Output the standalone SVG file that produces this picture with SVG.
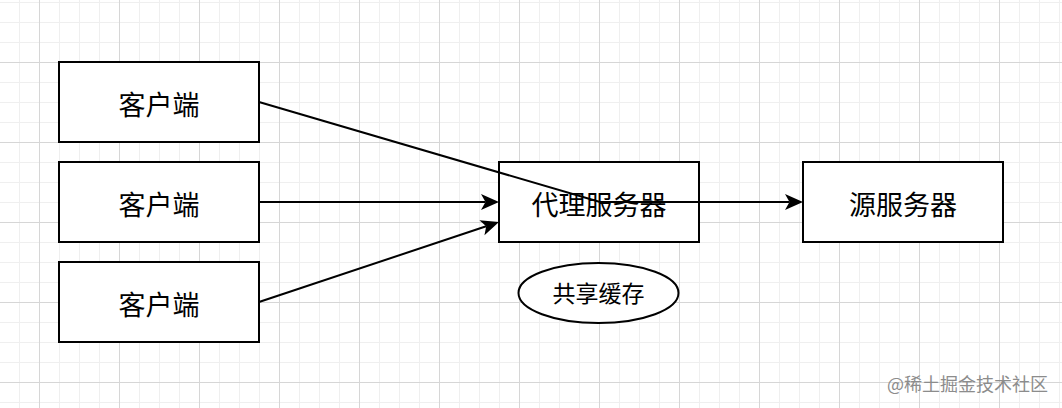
<svg xmlns="http://www.w3.org/2000/svg" width="1062" height="408" viewBox="0 0 1062 408">
<style>
.box{fill:#ffffff;stroke:#000000;stroke-width:2}
.edge{fill:none;stroke:#000000;stroke-width:2}
.lbl{font-family:"Noto Sans CJK SC","Noto Sans",sans-serif;fill:#000000;text-anchor:middle}
.big{font-size:27px}
.small{font-size:23px}
.wm{font-family:"Noto Sans CJK SC","Noto Sans",sans-serif;font-size:18px;fill:#8c8c8c;text-anchor:end}
</style>
<defs>
<pattern id="minor" patternUnits="userSpaceOnUse" x="19" y="2" width="20" height="20">
<path d="M0.5 0V20M0 0.5H20" stroke="#efefef" stroke-width="1" fill="none"/>
</pattern>
<pattern id="major" patternUnits="userSpaceOnUse" x="39" y="62" width="80" height="80">
<path d="M0.5 0V80M0 0.5H80" stroke="#d6d6d6" stroke-width="1" fill="none"/>
</pattern>
<marker id="arr" markerUnits="userSpaceOnUse" markerWidth="20" markerHeight="18" refX="4.5" refY="8" orient="auto" viewBox="0 0 20 16" overflow="visible">
<path d="M0,0 L18,8 L0,16 L4.5,8 Z" fill="#000000"/>
</marker>
</defs>
<rect width="1062" height="408" fill="#ffffff"/>
<rect width="1062" height="408" fill="url(#minor)"/>
<rect width="1062" height="408" fill="url(#major)"/>

<g id="client1"><rect class="box" x="59" y="62" width="200" height="80"/><text class="lbl big" x="159" y="115">客户端</text></g>
<g id="client2"><rect class="box" x="59" y="162" width="200" height="80"/><text class="lbl big" x="159" y="215">客户端</text></g>
<g id="client3"><rect class="box" x="59" y="262" width="200" height="80"/><text class="lbl big" x="159" y="315">客户端</text></g>
<g id="proxy"><rect class="box" x="499" y="162" width="200" height="80"/><text class="lbl big" x="599" y="215">代理服务器</text></g>
<g id="origin"><rect class="box" x="803" y="162" width="200" height="80"/><text class="lbl big" x="903" y="215">源服务器</text></g>
<g id="cache"><ellipse class="box" cx="598.5" cy="293" rx="80" ry="30"/><text class="lbl small" x="598.5" y="302">共享缓存</text></g>

<g id="connectors">
<polyline class="edge" points="259,102 600,202 789.5,202" marker-end="url(#arr)"/>
<line class="edge" x1="259" y1="202" x2="485.5" y2="202" marker-end="url(#arr)"/>
<line class="edge" x1="259" y1="302" x2="486.2" y2="226.3" marker-end="url(#arr)"/>
</g>

<text class="wm" x="1048" y="391">@稀土掘金技术社区</text>
</svg>
